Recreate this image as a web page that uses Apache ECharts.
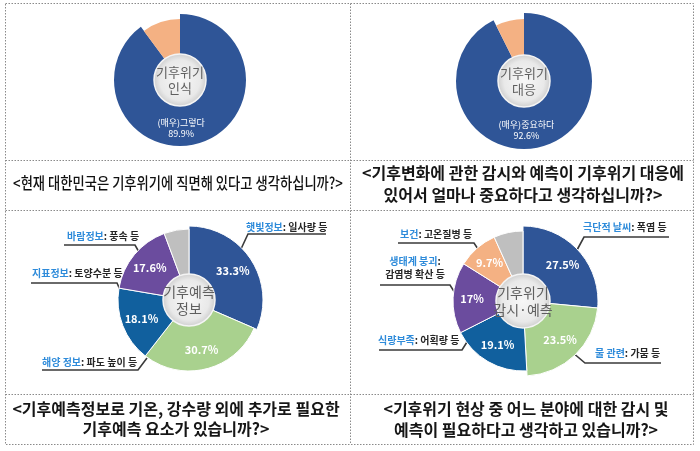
<!DOCTYPE html>
<html><head><meta charset="utf-8">
<script src="https://cdn.jsdelivr.net/npm/echarts@6/dist/echarts.min.js"></script>
<style>html,body{margin:0;padding:0;background:#fff}#c{width:700px;height:451px}</style>
</head><body><div id="c"></div>
<script>
// ---------- data ----------
const p1Names = ['(매우)그렇다', '그렇지 않다'];
const p1Values = [89.9, 10.1];
const p1Title = '기후위기\n인식';
const p1Question = '<현재 대한민국은 기후위기에 직면해 있다고 생각하십니까?>';

const p2Names = ['(매우)중요하다', '중요하지 않다'];
const p2Values = [92.6, 7.4];
const p2Title = '기후위기\n대응';
const p2Question = '<기후변화에 관한 감시와 예측이 기후위기 대응에\n있어서 얼마나 중요하다고 생각하십니까?>';

const p3Names = ['햇빛정보', '해양 정보', '지표정보', '바람정보', '기타'];
const p3Values = [33.3, 30.7, 18.1, 17.6, 6];
const p3Details = ['일사량 등', '파도 높이 등', '토양수분 등', '풍속 등'];
const p3Title = '기후예측\n정보';
const p3Question = '<기후예측정보로 기온, 강수량 외에 추가로 필요한\n기후예측 요소가 있습니까?>';

const p4Names = ['극단적 날씨', '물 관련', '식량부족', '생태계 붕괴', '보건', '기타'];
const p4Values = [27.5, 23.5, 19.1, 17, 9.7, 7];
const p4Details = ['폭염 등', '가뭄 등', '어획량 등', '감염병 확산 등', '고온질병 등'];
const p4Title = '기후위기\n감시·예측';
const p4Question = '<기후위기 현상 중 어느 분야에 대한 감시 및\n예측이 필요하다고 생각하고 있습니까?>';

// ---------- styles ----------
const C_BLUE = '#2F5597', C_ORANGE = '#F4B183', C_GREEN = '#A9D18E',
      C_DBLUE = '#11609E', C_PURPLE = '#6B4C9E', C_GREY = '#BFBFBF';
const C_CALL = '#2E8BDA', C_DARK = '#262626', C_LINE = '#3a3a3a';
const FONT = '"Noto Sans CJK KR", "Noto Sans", sans-serif';
const fmtPct = v => v + '%';

function ring(center, radius, names, values, colors, show, labelCfg, layout, border) {
  return {
    type: 'pie', center, radius, startAngle: 90, clockwise: true, silent: true,
    animation: false, avoidLabelOverlap: false,
    labelLine: { show: false },
    labelLayout: layout || null,
    data: names.map((n, i) => {
      const on = show.includes(i);
      return {
        name: n, value: values[i],
        itemStyle: {
          color: on ? colors[i] : 'rgba(0,0,0,0)',
          borderColor: on && border ? '#fff' : 'rgba(0,0,0,0)',
          borderWidth: on && border ? 1 : 0
        },
        label: Object.assign({ position: 'inside' }, labelCfg || {}, { show: on && !!labelCfg && n !== '기타' })
      };
    })
  };
}

function hub(center, r, title, fs) {
  return {
    type: 'pie', center, radius: [0, r], silent: true, animation: false,
    labelLine: { show: false },
    data: [{ name: title, value: 1 }],
    itemStyle: {
      color: { type: 'radial', x: 0.5, y: 0.5, r: 0.5,
        colorStops: [{ offset: 0, color: '#f7f7f7' }, { offset: 0.75, color: '#e9e9e9' }, { offset: 1, color: '#cdcdcd' }] },
      borderColor: '#f4f4f4', borderWidth: 1.5
    },
    label: { show: true, position: 'center', formatter: '{b}', color: '#5f5f5f',
      fontFamily: FONT, fontSize: fs, lineHeight: fs + 3 }
  };
}

const pctLabelBig = { formatter: p => fmtPct(p.value), color: '#fff', fontWeight: 'bold', fontSize: 11, fontFamily: FONT };
const mainLabel = { formatter: p => p.name + '\n' + fmtPct(p.value), color: '#fff', fontSize: 9, lineHeight: 11, fontFamily: FONT };
const pal3 = [C_BLUE, C_GREEN, C_DBLUE, C_PURPLE, C_GREY];
const pal4 = [C_BLUE, C_GREEN, C_DBLUE, C_PURPLE, C_ORANGE, C_GREY];

const series = [
  // pie 1
  ring([180, 80], [25, 66], p1Names, p1Values, [C_BLUE, C_ORANGE], [0], mainLabel, { dx: -14, dy: 2 }),
  ring([180, 80], [25, 61], p1Names, p1Values, [C_BLUE, C_ORANGE], [1], null),
  hub([180, 80], 26, p1Title, 13),
  // pie 2
  ring([524, 81], [25, 68], p2Names, p2Values, [C_BLUE, C_ORANGE], [0], mainLabel, { dx: -9, dy: 1 }),
  ring([524, 81], [25, 62], p2Names, p2Values, [C_BLUE, C_ORANGE], [1], null),
  hub([524, 81], 26, p2Title, 13),
  // pie 3
  ring([189, 300], [25, 74], p3Names, p3Values, pal3, [0], pctLabelBig, null, true),
  ring([189, 300], [25, 71], p3Names, p3Values, pal3, [1, 2, 3, 4], pctLabelBig, null, true),
  hub([189, 300], 26, p3Title, 14),
  // pie 4
  ring([523, 301], [26, 75], p4Names, p4Values, pal4, [0, 1], pctLabelBig, null, true),
  ring([523, 301], [26, 70], p4Names, p4Values, pal4, [2, 3, 4, 5], pctLabelBig, null, true),
  hub([523, 301], 27, p4Title, 14)
];

// ---------- graphic: frame, questions, callouts ----------
const dot = { stroke: '#8a8a8a', lineWidth: 1, lineDash: [1.5, 1.5], fill: null };
const qStyle = (text, lh) => ({ text, fill: '#161616', font: 'bold 16px ' + FONT, lineHeight: lh, textAlign: 'center', textVerticalAlign: 'middle' });
const graphic = [
  { type: 'rect', shape: { x: 5.5, y: 3.5, width: 688, height: 441 }, style: dot, silent: true },
  { type: 'line', shape: { x1: 5.5, y1: 160.5, x2: 693.5, y2: 160.5 }, style: dot, silent: true },
  { type: 'line', shape: { x1: 5.5, y1: 210.5, x2: 693.5, y2: 210.5 }, style: dot, silent: true },
  { type: 'line', shape: { x1: 5.5, y1: 394.5, x2: 693.5, y2: 394.5 }, style: dot, silent: true },
  { type: 'line', shape: { x1: 350.5, y1: 3.5, x2: 350.5, y2: 444.5 }, style: dot, silent: true },
  { type: 'text', x: 178, y: 183, scaleX: 0.83, silent: true,
    style: { text: p1Question, fill: '#111', font: '500 16px ' + FONT, textAlign: 'center', textVerticalAlign: 'middle' } },
  { type: 'text', x: 523, y: 184, silent: true, style: qStyle(p2Question, 22) },
  { type: 'text', x: 176, y: 419, silent: true, style: qStyle(p3Question, 20) },
  { type: 'text', x: 526, y: 419, silent: true, style: qStyle(p4Question, 21) }
];

function callout(name, detail, tx, ty, pts, align) {
  graphic.push({ type: 'polyline', shape: { points: pts }, silent: true,
    style: { stroke: C_LINE, lineWidth: 1.6, fill: null } });
  graphic.push({ type: 'text', x: tx, y: ty, silent: true,
    style: { text: '{a|' + name + '}{b|: ' + detail + '}', textAlign: align || 'left', textVerticalAlign: 'middle',
      rich: { a: { fill: C_CALL, font: 'bold 10px ' + FONT }, b: { fill: C_DARK, font: 'bold 10px ' + FONT } } } });
}
callout(p3Names[0], p3Details[0], 246, 227, [[241, 249], [248, 234], [326, 234]]);
callout(p3Names[3], p3Details[3], 67, 236, [[64, 245], [135, 245], [139, 252]]);
callout(p3Names[2], p3Details[2], 32, 273, [[31, 283], [117, 283], [121, 292]]);
callout(p3Names[1], p3Details[1], 42, 362, [[42, 370], [138, 370], [147, 358]]);
callout(p4Names[0], p4Details[0], 583, 227, [[577, 250], [584, 237], [669, 237]]);
callout(p4Names[1], p4Details[1], 595, 353, [[572, 352], [585, 363], [661, 363]]);
callout(p4Names[4], p4Details[4], 400, 234, [[398, 243], [474, 243], [480, 252]]);
callout(p4Names[2], p4Details[2], 378, 340, [[379, 350], [462, 350], [467, 342]]);
// two-line callout
graphic.push({ type: 'polyline', shape: { points: [[380, 285], [450, 285], [455, 293]] }, silent: true,
  style: { stroke: C_LINE, lineWidth: 1.6, fill: null } });
graphic.push({ type: 'text', x: 415, y: 268, silent: true,
  style: { text: '{a|' + p4Names[3] + '}{b|:}\n{b|' + p4Details[3] + '}', textAlign: 'center', textVerticalAlign: 'middle',
    rich: { a: { fill: C_CALL, font: 'bold 10px ' + FONT, lineHeight: 13 }, b: { fill: C_DARK, font: 'bold 10px ' + FONT, lineHeight: 13 } } } });

const chart = echarts.init(document.getElementById('c'), null, { renderer: 'canvas' });
chart.setOption({ backgroundColor: '#fff', animation: false, series, graphic });
</script></body></html>
